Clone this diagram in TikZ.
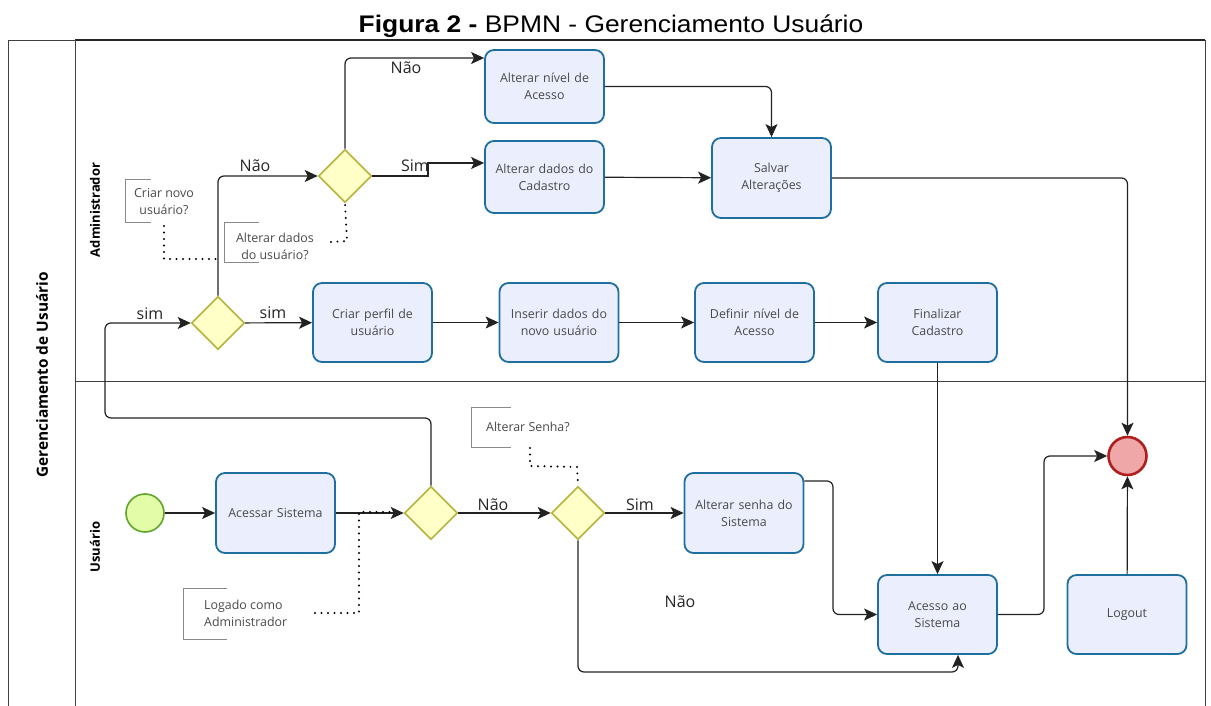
\documentclass[tikz,border=0pt]{standalone}
\usepackage{fontspec}
\setmainfont{Open Sans}
\newfontfamily\arialf{Liberation Sans}
\usetikzlibrary{shapes.geometric,arrows.meta}

\definecolor{taskfill}{HTML}{EBEEFC}
\definecolor{taskline}{HTML}{1E6FA0}
\definecolor{gwfill}{HTML}{FFFFC8}
\definecolor{gwline}{HTML}{B4B43C}
\definecolor{startfill}{HTML}{E2FCA8}
\definecolor{startline}{HTML}{5FA52A}
\definecolor{endfill}{HTML}{EFA7A7}
\definecolor{endline}{HTML}{B01E1E}
\definecolor{txt}{HTML}{4A4A4A}
\definecolor{flowc}{HTML}{222222}
\definecolor{notec}{HTML}{8A8A8A}

\tikzset{
  task/.style={draw=taskline, line width=1.8pt, fill=taskfill, rounded corners=9pt,
    minimum width=119pt, minimum height=80pt, text width=114pt, align=center,
    font=\fontsize{12.4}{17}\selectfont, text=txt, inner sep=0pt},
  gateway/.style={diamond, draw=gwline, fill=gwfill, line width=1.6pt,
    minimum width=53pt, minimum height=53pt, inner sep=0pt},
  startev/.style={circle, draw=startline, fill=startfill, line width=1.6pt,
    minimum size=38pt, inner sep=0pt},
  endev/.style={circle, draw=endline, fill=endfill, line width=2.6pt,
    minimum size=38pt, inner sep=0pt},
  flow/.style={draw=flowc, line width=1.2pt, rounded corners=6pt,
    -{Stealth[length=13pt,width=12pt,inset=3pt]}},
  assoc/.style={draw=black, line width=2.2pt, dash pattern=on 0pt off 6.5pt, line cap=round},
  bracket/.style={draw=notec, line width=0.9pt},
  note/.style={font=\fontsize{12.4}{17}\selectfont, text=txt, align=center, inner sep=0pt},
  lbl/.style={font=\fontsize{16}{18}\selectfont, text=black!85, inner sep=0pt},
  lane/.style={rotate=90, font=\fontsize{13}{15}\selectfont\bfseries, inner sep=0pt},
}

\begin{document}
\begin{tikzpicture}[x=1pt,y=-1pt]
\useasboundingbox (0,0) rectangle (1211,706);
\fill[white] (0,0) rectangle (1211,706);

% title
\node[inner sep=0pt] (title) at (611,26)
  {\scalebox{1.1}[1]{\arialf\fontsize{24}{26}\selectfont\textbf{Figura 2 -} BPMN - Gerenciamento Usuário}};

% pool and lanes
\draw[line width=0.9pt, draw=black!75] (8,706) -- (8,40) -- (75,40);
\draw[line width=1.6pt, draw=black!85] (75,40) -- (1205,40);
\draw[line width=0.9pt, draw=black!75] (1205,40) -- (1205,706);
\draw[line width=0.9pt, draw=black!75] (75,40) -- (75,706);
\draw[line width=0.9pt, draw=black!75] (75,381) -- (1205,381);
\node[lane, font=\fontsize{15.4}{18}\selectfont\bfseries] (pool) at (42,375) {Gerenciamento de Usuário};
\node[lane] (lane1) at (95,210) {Administrador};
\node[lane] (lane2) at (95,547) {Usuário};

% administrator lane
\node[task, minimum height=73pt] (nivel) at (544.5,86.5) {Alterar nível de\\Acesso};
\node[task, minimum height=72pt] (dados) at (544.5,177) {Alterar dados do\\Cadastro};
\node[task] (salvar) at (771.5,178) {Salvar\\Alterações};
\node[task, minimum height=79pt] (criar) at (372.5,322.5) {Criar perfil de\\usuário};
\node[task, minimum height=79pt] (inserir) at (559,322.5) {Inserir dados do\\novo usuário};
\node[task, minimum height=79pt] (definir) at (754.5,322.5) {Definir nível de\\Acesso};
\node[task, minimum height=79pt] (finalizar) at (937.5,322.5) {Finalizar\\Cadastro};
\node[gateway] (gA) at (218,323) {};
\node[gateway] (gB) at (345,176) {};

% user lane
\node[startev] (inicio) at (145,513) {};
\node[task] (acessar) at (275.5,513) {Acessar Sistema};
\node[gateway] (g1) at (431,513) {};
\node[gateway] (g2) at (578,513) {};
\node[task] (senha) at (744,513) {Alterar senha do\\Sistema};
\node[task, minimum height=79pt] (acesso) at (937.5,614.5) {Acesso ao\\Sistema};
\node[task, minimum height=79pt] (logout) at (1127,614.5) {Logout};
\node[endev] (fim) at (1127.5,456) {};

% sequence flows
\draw[flow] (inicio) -- (acessar);
\draw[flow] (acessar) -- (g1);
\draw[flow] (g1) -- (g2);
\node[lbl] (l1) at (493,505) {Não};
\draw[flow] (g1.north) |- (105,418) |- (gA.west);
\node[lbl] (l2) at (150,314) {sim};
\draw[flow] (gA) -- (criar);
\node[lbl] (l3) at (273,313) {sim};
\draw[flow] (gA.north) |- (gB.west);
\node[lbl] (l4) at (255,166) {Não};
\draw[flow] (gB.north) |- ([yshift=28.5pt]nivel.west);
\node[lbl] (l5) at (406,68) {Não};
\draw[flow, rounded corners=0pt] (gB.east) -- (428,176) -- (428,163) -- ([yshift=14pt]dados.west);
\node[lbl] (l6) at (415,166) {Sim};
\draw[flow] (nivel.east) -| (salvar.north);
\draw[flow] (dados) -- (salvar);
\draw[flow] (salvar.east) -| (fim.north);
\draw[flow] (criar) -- (inserir);
\draw[flow] (inserir) -- (definir);
\draw[flow] (definir) -- (finalizar);
\draw[flow] (finalizar) -- (acesso);
\draw[flow] (g2) -- (senha);
\node[lbl] (l7) at (640,505) {Sim};
\draw[flow] (g2.south) |- (958,672) -- ([xshift=20.5pt]acesso.south);
\node[lbl] (l8) at (680,602) {Não};
\draw[flow] ([yshift=32pt]senha.east) -| (833,560) |- (acesso.west);
\draw[flow] (acesso.east) -| (1044,456) -- (fim.west);
\draw[flow] (logout) -- (fim);

% text annotations
\draw[bracket] (151,179) -- (125,179) -- (125,222) -- (151,222);
\node[note] (n1) at (164,202) {Criar novo\\usuário?};
\coordinate (n1a) at (164,226);
\draw[assoc] (n1a) -- (164,259) -- (218,259);

\draw[bracket] (259,222) -- (224,222) -- (224,262) -- (259,262);
\node[note] (n2) at (275,246) {Alterar dados\\do usuário?};
\coordinate (n2a) at (331,242);
\draw[assoc] (n2a) -- (347,241) -- (gB.south);

\draw[bracket] (511,407) -- (471.5,407) -- (471.5,447) -- (511,447);
\node[note, anchor=west] (n3) at (486,427) {Alterar Senha?};
\coordinate (n3a) at (530,448);
\draw[assoc] (n3a) -- (530,466) -- (577,467) -- (g2.north);

\draw[bracket] (227,588) -- (183,588) -- (183,639) -- (227,639);
\node[note, align=left, anchor=west] (n4) at (204,613.5) {Logado como\\Administrador};
\coordinate (n4a) at (315,613);
\draw[assoc] (n4a) -- (359,613) -- (359,512) -- (392,512);
\end{tikzpicture}
\end{document}
